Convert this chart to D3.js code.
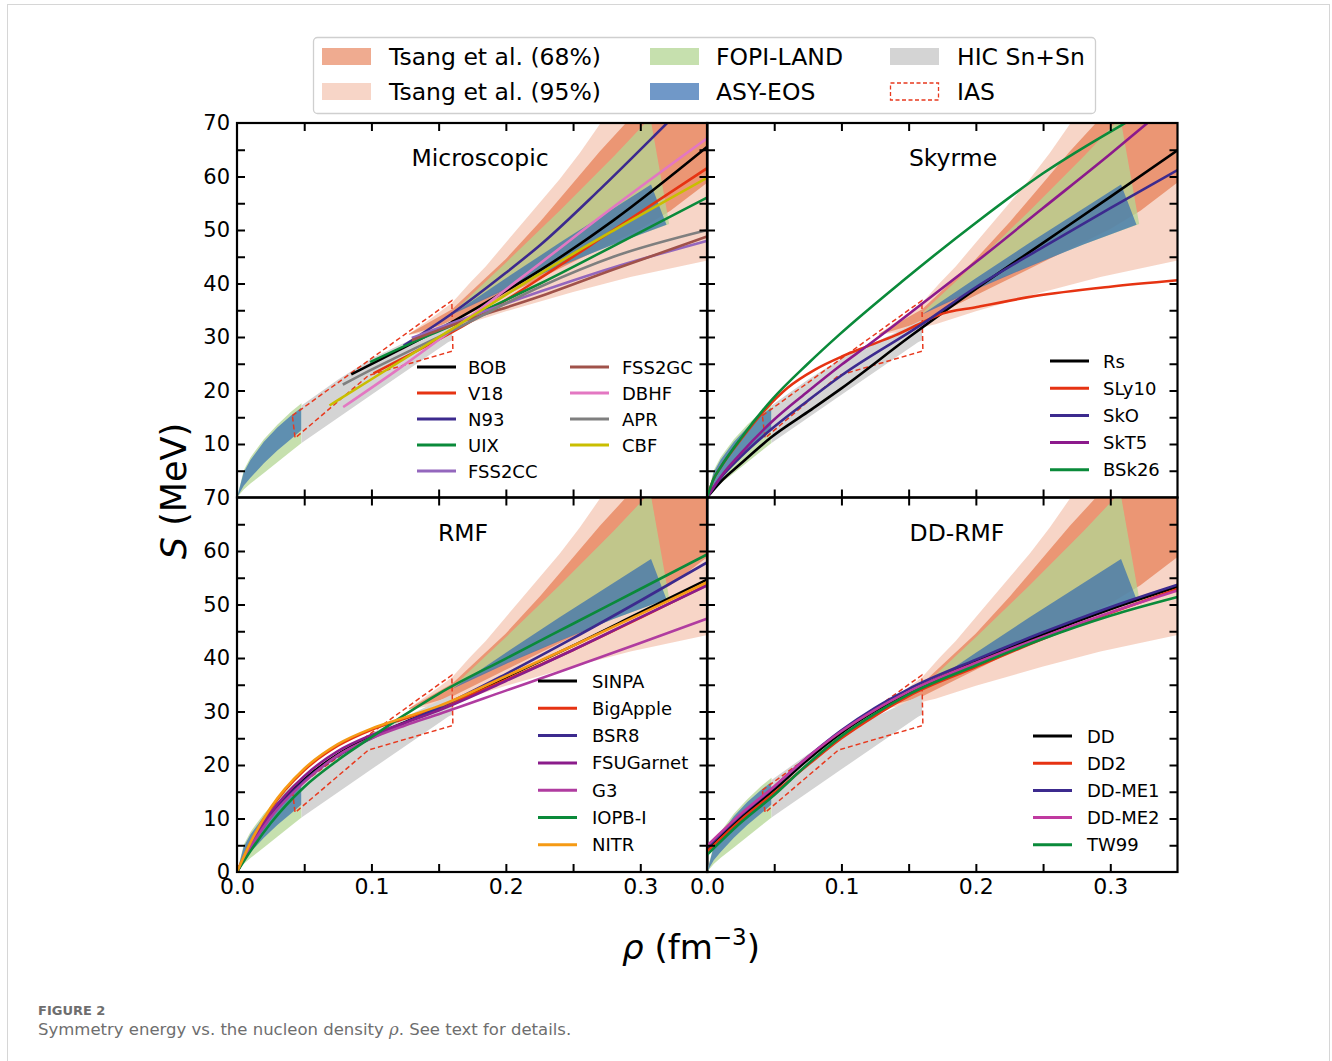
<!DOCTYPE html>
<html>
<head>
<meta charset="utf-8">
<script src="https://cdn.jsdelivr.net/npm/d3@7"></script>
<style>
  body { margin: 0; background: #fff; }
  text { font-family: "DejaVu Sans", sans-serif; }
</style>
</head>
<body>
<svg id="fig" width="1332" height="1061"></svg>
<script>
// ---- axis ticks ----
const rhoLabels = [0.0, 0.1, 0.2, 0.3];
const rhoTicks = [0.05, 0.1, 0.15, 0.2, 0.25, 0.3];
const sTicks = [5, 10, 15, 20, 25, 30, 35, 40, 45, 50, 55, 60, 65];
const sLabelsTop = [10, 20, 30, 40, 50, 60, 70];
const sLabelsBottom = [0, 10, 20, 30, 40, 50, 60, 70];

// ---- constraint bands [rho, S] ----
const tsang95Upper = [[0.128,30.6],[0.145,33.6],[0.16,36.4],[0.1735,40.2],[0.185,43.2],[0.21,50.6],[0.24,59.5],[0.255,64.4],[0.27,69.8],[0.3,79],[0.35,93]];
const tsang95Lower = [[0.128,30.4],[0.15,31.2],[0.17,32.4],[0.2,34.8],[0.25,38.4],[0.2926,41.2],[0.35,44.3]];
const tsang68Upper = [[0.128,30.6],[0.16,35.2],[0.2,44.6],[0.2256,51.6],[0.2405,56.0],[0.27,64.7],[0.2926,70.9],[0.35,86]];
const tsang68Lower = [[0.128,30.4],[0.16,32.8],[0.2,37.8],[0.25,44.0],[0.3,50.2],[0.3224,53.6],[0.35,58.9]];
const fopiLowUpper = [[0,0],[0.005,5.1],[0.01,7.5],[0.02,10.9],[0.03,13.6],[0.04,16.0],[0.048,17.6]];
const fopiLowLower = [[0,0],[0.005,1.5],[0.01,2.6],[0.02,4.6],[0.03,6.6],[0.04,8.6],[0.048,10.2]];
const fopiHighUpper = [[0.16,34.5],[0.2,43.9],[0.24,53.6],[0.28,63.7],[0.3075,71]];
const fopiHighLower = [[0.16,34.5],[0.2,39.1],[0.24,43.3],[0.28,47.3],[0.3215,51.1]];
const asyLowUpper = [[0,0],[0.005,4.7],[0.01,7.0],[0.02,10.4],[0.03,13.1],[0.04,15.3],[0.048,16.8]];
const asyLowLower = [[0,0],[0.005,2.2],[0.01,3.7],[0.02,6.4],[0.03,8.8],[0.04,10.9],[0.048,12.6]];
const asyHighUpper = [[0.16,34.2],[0.2,41.0],[0.24,47.6],[0.28,54.0],[0.308,58.5]];
const asyHighLower = [[0.16,34.2],[0.2,38.9],[0.24,43.2],[0.28,47.3],[0.3195,51.0]];
const hicUpper = [[0.048,17.2],[0.075,22.0],[0.1,26.0],[0.13,29.6],[0.16,33.2]];
const hicLower = [[0.048,10.2],[0.1,19.2],[0.157,29.0],[0.16,29.4]];
const iasPoly = [[0.0412,15.3],[0.1,26.0],[0.1598,36.8],[0.1606,27.4],[0.0978,22.8],[0.0432,11.1]];

// ---- Microscopic ----
const BOB = [[0.085,23.0],[0.12,27.5],[0.16,32.8],[0.2,38.6],[0.2256,42.5],[0.28,51.8],[0.35,65.6]];
const V18 = [[0.1015,23.2],[0.13,26.9],[0.16,30.9],[0.2,36.9],[0.2256,41.0],[0.28,50.0],[0.35,61.6]];
const N93 = [[0.124,28.4],[0.16,34.4],[0.2,42.0],[0.2256,47.2],[0.27,57.6],[0.3212,70.3],[0.35,77.5]];
const UIX = [[0.099,25.3],[0.13,28.9],[0.16,32.2],[0.2,36.9],[0.2256,40.0],[0.28,47.0],[0.35,56.1]];
const FSS2CC = [[0.13,29.8],[0.16,32.6],[0.2256,38.5],[0.28,43.0],[0.35,48.0]];
const FSS2GC = [[0.13,29.4],[0.16,32.2],[0.2256,37.6],[0.28,42.6],[0.35,48.8]];
const DBHF = [[0.079,16.9],[0.12,24.0],[0.16,31.3],[0.2256,43.8],[0.28,54.3],[0.35,67.2]];
const APR = [[0.0787,21.1],[0.1,23.9],[0.13,27.6],[0.16,31.2],[0.2256,39.4],[0.28,45.0],[0.35,50.0]];
const CBF = [[0.0688,17.2],[0.1,22.1],[0.16,31.5],[0.2256,41.9],[0.28,49.9],[0.35,59.8]];

// ---- Skyrme ----
const Rs = [[0,0],[0.01,2.9],[0.025,6.3],[0.048,11.3],[0.075,16.0],[0.1,20.4],[0.15,29.9],[0.2,39.0],[0.25,47.6],[0.3,56.2],[0.35,64.9]];
const SLy10 = [[0,0],[0.005,3.5],[0.01,5.6],[0.025,10.8],[0.0432,16.4],[0.06,20.5],[0.0804,23.9],[0.1,26.3],[0.1176,28.1],[0.14,30.3],[0.161,32.8],[0.1722,34.1],[0.2008,35.6],[0.243,37.6],[0.3,39.4],[0.35,40.6]];
const SkO = [[0,0],[0.01,3.6],[0.025,7.6],[0.048,12.8],[0.075,18.1],[0.1,22.8],[0.16,32.4],[0.2,39.3],[0.25,46.8],[0.3,54.1],[0.35,61.2]];
const SkT5 = [[0,0],[0.01,3.8],[0.025,8.2],[0.048,14.1],[0.075,19.8],[0.1,24.8],[0.12,28.5],[0.16,36.2],[0.2,44.0],[0.25,54.1],[0.3,64.2],[0.3286,70.2],[0.35,74.6]];
const BSk26 = [[0,0],[0.005,3.5],[0.01,5.6],[0.025,11.0],[0.048,18.2],[0.075,25.0],[0.0978,30.3],[0.1462,40.6],[0.2008,51.5],[0.25,60.6],[0.3125,70.2],[0.35,75.5]];

// ---- RMF ----
const SINPA = [[0,0],[0.01,4.8],[0.025,10.6],[0.05,17.3],[0.075,22.0],[0.1,25.3],[0.125,28.0],[0.15,30.6],[0.2,36.4],[0.25,42.3],[0.3,48.5],[0.35,54.7]];
const BigApple = [[0,0],[0.01,5.4],[0.025,11.8],[0.05,19.0],[0.075,23.6],[0.1,26.6],[0.125,28.7],[0.15,30.7],[0.2,35.9],[0.25,41.5],[0.3,47.5],[0.35,53.7]];
const BSR8 = [[0,0],[0.01,4.7],[0.025,10.4],[0.05,17.0],[0.075,21.7],[0.1,25.0],[0.125,27.9],[0.15,30.7],[0.2,37.0],[0.25,43.7],[0.3,50.7],[0.35,57.9]];
const FSUGarnet = [[0,0],[0.01,5.0],[0.025,11.0],[0.05,17.9],[0.075,22.6],[0.1,25.6],[0.125,27.9],[0.15,30.2],[0.2,35.7],[0.25,41.5],[0.3,47.6],[0.35,53.6]];
const G3 = [[0,0],[0.01,4.6],[0.025,10.2],[0.05,16.8],[0.075,21.8],[0.1,25.0],[0.125,27.4],[0.15,29.5],[0.2,33.9],[0.25,38.3],[0.3,42.8],[0.35,47.4]];
const IOPBI = [[0,0],[0.01,3.9],[0.025,9.1],[0.05,15.9],[0.075,20.9],[0.1,25.2],[0.125,29.4],[0.15,33.3],[0.2,39.9],[0.25,46.4],[0.3,52.9],[0.35,59.4]];
const NITR = [[0,0],[0.01,5.5],[0.025,12.0],[0.05,19.3],[0.075,23.9],[0.1,26.8],[0.125,28.9],[0.15,31.0],[0.2,36.6],[0.25,42.3],[0.3,48.2],[0.35,54.2]];

// ---- DD-RMF ----
const DD = [[0,4.1],[0.025,10.1],[0.05,15.4],[0.075,21.0],[0.1,26.0],[0.125,30.1],[0.15,33.6],[0.2,39.3],[0.25,44.4],[0.3,49.1],[0.35,53.3]];
const DD2 = [[0,3.8],[0.025,9.7],[0.05,14.8],[0.075,20.0],[0.1,25.0],[0.125,29.2],[0.15,32.9],[0.2,38.3],[0.25,43.6],[0.3,48.4],[0.35,52.9]];
const DDME1 = [[0,4.6],[0.025,10.6],[0.05,15.9],[0.075,21.5],[0.1,26.5],[0.125,30.7],[0.15,34.2],[0.2,39.7],[0.25,44.8],[0.3,49.5],[0.35,53.7]];
const DDME2 = [[0,4.9],[0.025,10.8],[0.05,16.0],[0.075,21.5],[0.1,26.3],[0.125,30.3],[0.15,33.7],[0.2,39.1],[0.25,44.0],[0.3,48.5],[0.35,52.6]];
const TW99 = [[0,3.2],[0.025,9.2],[0.05,14.4],[0.075,20.2],[0.1,25.4],[0.125,29.6],[0.15,33.2],[0.2,38.6],[0.25,43.6],[0.3,47.9],[0.35,51.4]];

// colours
const TSANG = "rgb(223,87,33)";
const FOPI = "rgb(179,214,147)";
const ASY = "rgb(51,108,176)";
const HIC = "#d4d4d4";
const IASC = "#e8391e";
const RED = "#e63312", INDIGO = "#3c2a8e", GREEN = "#0a8a3a";

const panels = [
  {name: "Microscopic", x0: 237, y0: 123, title: [480, 166], sLabels: sLabelsTop, rhoLab: false,
   curves: [["BOB", BOB, "#000"], ["V18", V18, RED], ["N93", N93, INDIGO], ["UIX", UIX, GREEN],
            ["FSS2CC", FSS2CC, "#9467bd"], ["FSS2GC", FSS2GC, "#a0524a"], ["DBHF", DBHF, "#e377c2"],
            ["APR", APR, "#7f7f7f"], ["CBF", CBF, "#c9be00"]],
   legend: [[417, 468, 367, 0, 5], [570, 622, 367, 5, 9]], rowH: 26},
  {name: "Skyrme", x0: 707, y0: 123, title: [953, 166], sLabels: null, rhoLab: false,
   curves: [["Rs", Rs, "#000"], ["SLy10", SLy10, RED], ["SkO", SkO, INDIGO], ["SkT5", SkT5, "#8c1a8c"], ["BSk26", BSk26, GREEN]],
   legend: [[1050, 1103, 361, 0, 5]], rowH: 27.2},
  {name: "RMF", x0: 237, y0: 497.5, title: [463, 541], sLabels: sLabelsBottom, rhoLab: true,
   curves: [["SINPA", SINPA, "#000"], ["BigApple", BigApple, RED], ["BSR8", BSR8, INDIGO], ["FSUGarnet", FSUGarnet, "#8b1c8b"],
            ["G3", G3, "#b03ca0"], ["IOPB-I", IOPBI, GREEN], ["NITR", NITR, "#f59a14"]],
   legend: [[538, 592, 681, 0, 7]], rowH: 27.3},
  {name: "DD-RMF", x0: 707, y0: 497.5, title: [957, 541], sLabels: null, rhoLab: true,
   curves: [["DD", DD, "#000"], ["DD2", DD2, RED], ["DD-ME1", DDME1, INDIGO], ["DD-ME2", DDME2, "#c03aa0"], ["TW99", TW99, GREEN]],
   legend: [[1033, 1087, 736, 0, 5]], rowH: 27.2}
];

const PW = 470.5, PH = 374.5;
const svg = d3.select("#fig");

// page frame
svg.append("rect").attr("x", 7.5).attr("y", 4.5).attr("width", 1322).attr("height", 1070)
  .attr("fill", "none").attr("stroke", "#d6d6d6").attr("stroke-width", 1);

panels.forEach((p, i) => {
  const g = svg.append("g").attr("transform", `translate(${p.x0},${p.y0})`);
  const x = d3.scaleLinear().domain([0, 0.35]).range([0, PW]);
  const y = d3.scaleLinear().domain([0, 70]).range([PH, 0]);

  g.append("clipPath").attr("id", "clip" + i)
    .append("rect").attr("width", PW).attr("height", PH);
  const plot = g.append("g").attr("clip-path", `url(#clip${i})`);

  const poly = d3.line().x(d => x(d[0])).y(d => y(d[1]));
  const band = (up, lo) => poly(up.concat(lo.slice().reverse())) + "Z";

  plot.append("path").attr("d", band(tsang95Upper, tsang95Lower)).attr("fill", TSANG).attr("fill-opacity", 0.25);
  plot.append("path").attr("d", band(tsang68Upper, tsang68Lower)).attr("fill", TSANG).attr("fill-opacity", 0.5);
  plot.append("path").attr("d", band(fopiLowUpper, fopiLowLower)).attr("fill", FOPI).attr("fill-opacity", 0.75);
  plot.append("path").attr("d", band(fopiHighUpper, fopiHighLower)).attr("fill", FOPI).attr("fill-opacity", 0.75);
  plot.append("path").attr("d", band(asyLowUpper, asyLowLower)).attr("fill", ASY).attr("fill-opacity", 0.7);
  plot.append("path").attr("d", band(asyHighUpper, asyHighLower)).attr("fill", ASY).attr("fill-opacity", 0.7);
  plot.append("path").attr("d", band(hicUpper, hicLower)).attr("fill", HIC);
  plot.append("path").attr("d", poly(iasPoly) + "Z").attr("fill", "none")
    .attr("stroke", IASC).attr("stroke-width", 1.5).attr("stroke-dasharray", "5,3");

  const line = d3.line().curve(d3.curveMonotoneX).x(d => x(d[0])).y(d => y(d[1]));
  p.curves.forEach(c => {
    plot.append("path").attr("d", line(c[1])).attr("fill", "none")
      .attr("stroke", c[2]).attr("stroke-width", 2.6);
  });

  // spines + inward ticks on every side
  g.append("g").call(d3.axisLeft(y).tickValues(sTicks).tickSize(-8).tickFormat(""));
  g.append("g").attr("transform", `translate(${PW},0)`).call(d3.axisRight(y).tickValues(sTicks).tickSize(-8).tickFormat(""));
  g.append("g").attr("transform", `translate(0,${PH})`).call(d3.axisBottom(x).tickValues(rhoTicks).tickSize(-8).tickFormat(""));
  g.append("g").call(d3.axisTop(x).tickValues(rhoTicks).tickSize(-8).tickFormat(""));
  g.selectAll(".domain").remove();
  g.selectAll(".tick line").attr("stroke", "#000").attr("stroke-width", 2);
  g.append("rect").attr("width", PW).attr("height", PH).attr("fill", "none")
    .attr("stroke", "#000").attr("stroke-width", 2.2);

  if (p.sLabels) {
    const ax = g.append("g").call(d3.axisLeft(y).tickValues(p.sLabels).tickSize(0).tickPadding(7).tickFormat(d3.format("d")));
    ax.select(".domain").remove();
    ax.selectAll("text").attr("font-size", 21).attr("font-family", "DejaVu Sans").attr("fill", "#000");
  }
  if (p.rhoLab) {
    const ax = g.append("g").attr("transform", `translate(0,${PH})`)
      .call(d3.axisBottom(x).tickValues(rhoLabels).tickSize(0).tickPadding(6).tickFormat(d3.format(".1f")));
    ax.select(".domain").remove();
    ax.selectAll("text").attr("font-size", 22).attr("font-family", "DejaVu Sans").attr("fill", "#000");
  }

  svg.append("text").attr("x", p.title[0]).attr("y", p.title[1]).attr("text-anchor", "middle")
    .attr("font-size", 23.5).text(p.name);

  // in-panel legend
  p.legend.forEach(col => {
    const [lx, tx, ty, a, b] = col;
    p.curves.slice(a, b).forEach((c, k) => {
      const yy = ty + k * p.rowH;
      svg.append("line").attr("x1", lx).attr("x2", lx + 39).attr("y1", yy).attr("y2", yy)
        .attr("stroke", c[2]).attr("stroke-width", 3);
      svg.append("text").attr("x", tx).attr("y", yy + 6.5).attr("font-size", 18).text(c[0]);
    });
  });
});

// top legend
const leg = svg.append("g");
leg.append("rect").attr("x", 313.5).attr("y", 37.5).attr("width", 782).attr("height", 76).attr("rx", 4)
  .attr("fill", "#fff").attr("stroke", "#cfcfcf").attr("stroke-width", 1.3);
const legItems = [
  ["Tsang et al. (68%)", 322, 389, 56.5, TSANG, 0.5],
  ["Tsang et al. (95%)", 322, 389, 91.5, TSANG, 0.25],
  ["FOPI-LAND", 650, 716, 56.5, FOPI, 0.75],
  ["ASY-EOS", 650, 716, 91.5, ASY, 0.7],
  ["HIC Sn+Sn", 890, 957, 56.5, HIC, 1],
  ["IAS", 890, 957, 91.5, null, 0]
];
legItems.forEach(d => {
  const r = leg.append("rect").attr("x", d[1]).attr("y", d[3] - 8.5).attr("width", 49).attr("height", 17);
  if (d[4]) r.attr("fill", d[4]).attr("fill-opacity", d[5]);
  else r.attr("x", d[1] + 0.5).attr("width", 48).attr("fill", "none").attr("stroke", IASC)
        .attr("stroke-width", 1.3).attr("stroke-dasharray", "4,2.5");
  leg.append("text").attr("x", d[2]).attr("y", d[3] + 8.5).attr("font-size", 23.5).text(d[0]);
});

// axis titles
const yl = svg.append("text").attr("transform", "translate(186,491) rotate(-90)")
  .attr("text-anchor", "middle").attr("font-size", 35);
yl.append("tspan").attr("font-style", "italic").text("S");
yl.append("tspan").text(" (MeV)");

const xl = svg.append("text").attr("x", 691).attr("y", 959).attr("text-anchor", "middle").attr("font-size", 34);
xl.append("tspan").attr("font-style", "italic").text("ρ");
xl.append("tspan").text(" (fm");
xl.append("tspan").attr("font-size", 23).attr("dy", -14).text("−3");
xl.append("tspan").attr("dy", 14).text(")");

// caption
svg.append("text").attr("x", 38).attr("y", 1015).attr("font-family", "Open Sans")
  .attr("font-size", 13).attr("font-weight", 600).attr("fill", "#6e6e6e").text("FIGURE 2");
const cap = svg.append("text").attr("x", 38).attr("y", 1035).attr("font-family", "Open Sans")
  .attr("font-size", 16.5).attr("fill", "#6e6e6e");
cap.append("tspan").text("Symmetry energy vs. the nucleon density ");
cap.append("tspan").attr("font-style", "italic").attr("font-family", "DejaVu Serif").text("ρ");
cap.append("tspan").text(". See text for details.");
</script>
</body>
</html>
